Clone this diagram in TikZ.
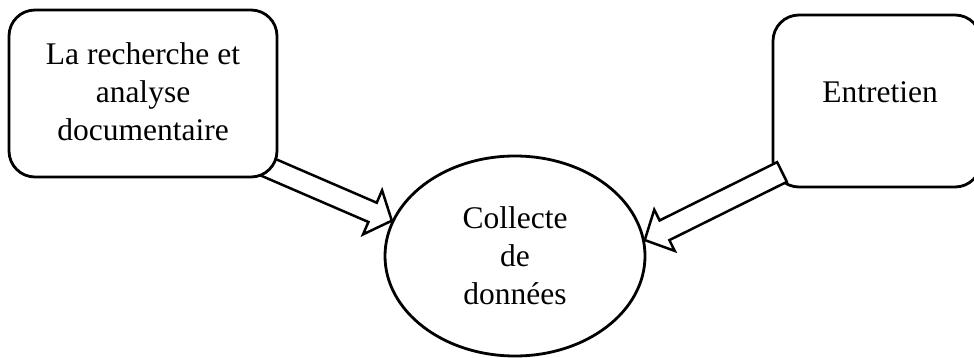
\documentclass[tikz,border=0pt]{standalone}
\usepackage{fontspec}
\setmainfont{Liberation Serif}
\usetikzlibrary{shapes.geometric,calc}
\begin{document}
\begin{tikzpicture}[x=1pt,y=-1pt,
  boxstyle/.style={draw, line width=2.8pt, rounded corners=26pt, fill=white, inner sep=0pt},
  txt/.style={font=\fontsize{31.5}{38}\selectfont, align=center, inner sep=0pt},
  blockarr/.style={draw, line width=2.5pt, fill=white, line join=miter}]
\useasboundingbox (0,0) rectangle (974,358);
% ellipse
\node[ellipse, draw, line width=2.8pt, minimum width=260pt, minimum height=200pt, inner sep=0pt, txt] (coll) at (515,256) {Collecte\\de\\données};
% right box
\node[boxstyle, minimum width=208pt, minimum height=172pt] (ebox) at (877,101) {};
\node[txt] (etxt) at (880,92) {Entretien};
% right arrow
\coordinate (rt) at (782,172);
\coordinate (rp) at (coll.7);
\coordinate (rb) at ($(rp)!22pt!(rt)$);
\draw[blockarr] ($(rt)!11pt!90:(rp)$) -- ($(rb)!11pt!-90:(rt)$) -- ($(rb)!23pt!-90:(rt)$) -- (rp)
  -- ($(rb)!23pt!90:(rt)$) -- ($(rb)!11pt!90:(rt)$) -- ($(rt)!11pt!-90:(rp)$) -- cycle;
% left arrow
\coordinate (lt) at (249,159);
\coordinate (lp) at (coll.164);
\coordinate (lb) at ($(lp)!21pt!(lt)$);
\draw[blockarr] ($(lt)!10.5pt!90:(lp)$) -- ($(lb)!10.5pt!-90:(lt)$) -- ($(lb)!24pt!-90:(lt)$) -- (lp)
  -- ($(lb)!24pt!90:(lt)$) -- ($(lb)!10.5pt!90:(lt)$) -- ($(lt)!10.5pt!-90:(lp)$) -- cycle;
% left box
\node[boxstyle, minimum width=268pt, minimum height=167pt] (rbox) at (143,93.5) {};
\node[txt] (rtxt) at (143,92) {La recherche et\\analyse\\documentaire};
\end{tikzpicture}
\end{document}
